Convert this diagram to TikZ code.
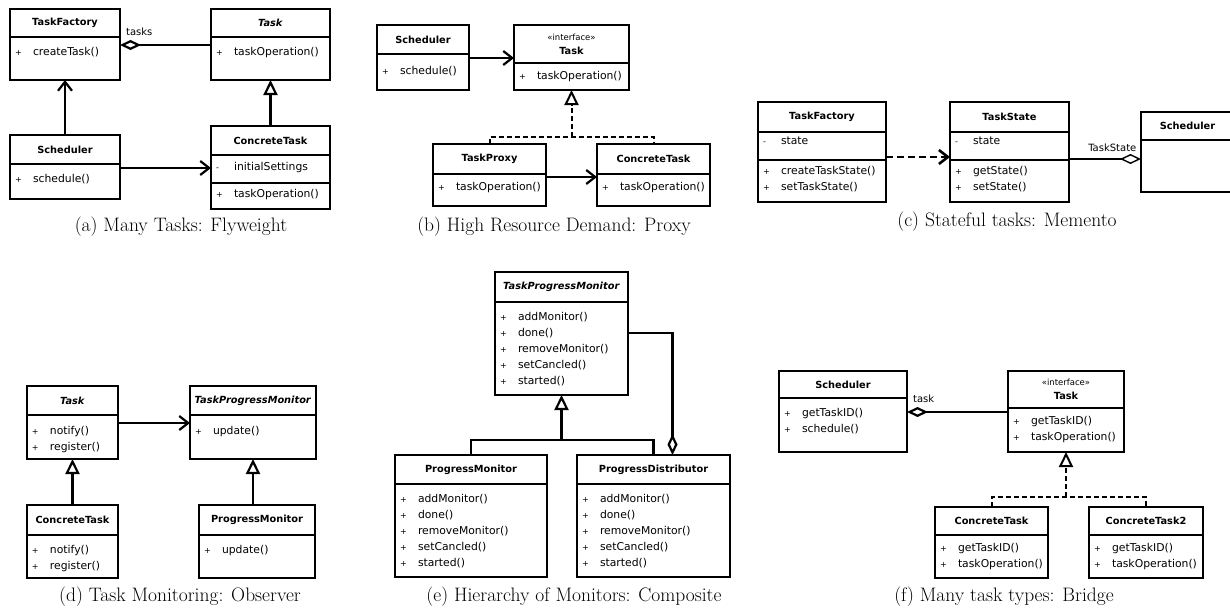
\documentclass[tikz,border=0pt]{standalone}
\usepackage{fontspec}
\usepackage{array}
\newfontfamily\umlfont{DejaVu Sans}
\usetikzlibrary{arrows.meta}
\usetikzlibrary{positioning}

\newcommand{\members}[4][7pt]{\parbox[t][#3][t]{#2}{\vspace*{#1}\fontsize{10.8}{16}\selectfont
  \begin{tabular}[t]{@{\hspace{5pt}}>{\fontsize{8}{16}\selectfont}p{18pt}@{}l@{}}#4\end{tabular}}}
\newcommand{\monitorops}{+ & addMonitor()\\ + & done()\\ + & removeMonitor()\\ + & setCancled()\\ + & started()}
\newcommand{\iface}{{\mdseries\fontsize{8.5}{15}\selectfont «interface»}\\}

\tikzset{
  umlhead/.style={draw, line width=1.6pt, inner sep=0pt, outer sep=0pt, anchor=north west,
    align=center, font=\umlfont\bfseries\fontsize{9.8}{14}\selectfont},
  umlbody/.style={draw, line width=1.6pt, inner sep=0pt, outer sep=0pt, font=\umlfont},
  umlframe/.style={line width=2.8pt},
  assoc/.style={line width=2.2pt, -{Straight Barb[length=9pt,width=14pt]}},
  inh/.style={line width=2.2pt, -{Triangle[length=15pt,width=14pt,fill=white]}},
  aggr/.style={line width=2.2pt, {Diamond[length=21pt,width=10pt,fill=white]}-},
  real/.style={line width=2pt, dash pattern=on 5pt off 3pt},
  dep/.style={line width=2.6pt, dash pattern=on 7pt off 4pt},
  lbl/.style={font=\umlfont\fontsize{10}{12}\selectfont, inner sep=1pt},
  caption/.style={font=\fontsize{19.5}{22}\selectfont}
}

\begin{document}
\begin{tikzpicture}[x=1pt, y=1pt]
\path[use as bounding box] (0,0) rectangle (1230,-610);
\clip (0,0) rectangle (1230,-610);

% (a)
\node[umlhead, minimum width=110pt, minimum height=28pt] (a-fac) at (10,-9) {TaskFactory};
\node[umlbody, below=0pt of a-fac] (a-fac-op) {\members{110pt}{43pt}{+ & createTask()}};
\node[umlhead, minimum width=119pt, minimum height=28pt] (a-task) at (211,-9) {\textit{Task}};
\node[umlbody, below=0pt of a-task] (a-task-op) {\members{119pt}{43pt}{+ & taskOperation()}};
\node[umlhead, minimum width=110pt, minimum height=29pt] (a-sch) at (10,-135) {Scheduler};
\node[umlbody, below=0pt of a-sch] (a-sch-op) {\members{110pt}{35pt}{+ & schedule()}};
\node[umlhead, minimum width=119pt, minimum height=29pt] (a-con) at (211,-126) {ConcreteTask};
\node[umlbody, below=0pt of a-con] (a-con-at) {\members[4.7pt]{119pt}{28pt}{- & initialSettings}};
\node[umlbody, below=0pt of a-con-at] (a-con-op) {\members[3.7pt]{119pt}{26pt}{+ & taskOperation()}};

\draw[assoc] (a-sch.north) -- (a-fac-op.south);
\coordinate (a-s) at ([yshift=-4pt]a-sch-op.north east);
\draw[assoc] (a-s) -- (a-s -| a-con-at.west);
\coordinate (a-t) at ([yshift=-8pt]a-task-op.north west);
\draw[aggr] (a-t -| a-fac-op.east) -- (a-t)
  node[lbl, pos=0, anchor=south west, xshift=4pt, yshift=7pt] (a-lbl) {tasks};
\draw[inh] (a-con.north) -- (a-task-op.south);
\node[caption] (cap-a) at (181,-227) {(a) Many Tasks: Flyweight};

% (b)
\node[umlhead, minimum width=92pt, minimum height=29pt] (b-sch) at (377,-25) {Scheduler};
\node[umlbody, below=0pt of b-sch] (b-sch-op) {\members[9.7pt]{92pt}{36pt}{+ & schedule()}};
\node[umlhead, minimum width=115pt, minimum height=38pt] (b-task) at (514,-25) {\iface Task};
\node[umlbody, below=0pt of b-task] (b-task-op) {\members[5.7pt]{115pt}{27pt}{+ & taskOperation()}};
\node[umlhead, minimum width=113pt, minimum height=30pt] (b-prx) at (433,-144) {TaskProxy};
\node[umlbody, below=0pt of b-prx] (b-prx-op) {\members[5.7pt]{113pt}{32pt}{+ & taskOperation()}};
\node[umlhead, minimum width=113pt, minimum height=30pt] (b-con) at (597,-144) {ConcreteTask};
\node[umlbody, below=0pt of b-con] (b-con-op) {\members[5.7pt]{113pt}{32pt}{+ & taskOperation()}};

\coordinate (b-s) at ([yshift=-4pt]b-sch-op.north east);
\draw[assoc] (b-s) -- (b-s -| b-task.west);
\coordinate (b-p) at ([yshift=-3pt]b-prx-op.north east);
\draw[assoc] (b-p) -- (b-p -| b-con.west);
\coordinate (b-j) at ([yshift=7pt]b-prx.north);
\draw[real] (b-prx.north) -- (b-j) -| (b-con.north);
\draw[inh, real] (b-j -| b-task-op.south) -- (b-task-op.south);
\node[caption] (cap-b) at (554,-227) {(b) High Resource Demand: Proxy};

% (c)
\node[umlhead, minimum width=128pt, minimum height=30pt] (c-fac) at (758,-102) {TaskFactory};
\node[umlbody, below=0pt of c-fac] (c-fac-at) {\members[1.7pt]{128pt}{28pt}{- & state}};
\node[umlbody, below=0pt of c-fac-at] (c-fac-op) {\members[3.7pt]{128pt}{42pt}{+ & createTaskState()\\ + & setTaskState()}};
\node[umlhead, minimum width=119pt, minimum height=30pt] (c-st) at (950,-102) {TaskState};
\node[umlbody, below=0pt of c-st] (c-st-at) {\members[1.7pt]{119pt}{28pt}{- & state}};
\node[umlbody, below=0pt of c-st-at] (c-st-op) {\members[3.7pt]{119pt}{42pt}{+ & getState()\\ + & setState()}};
\node[umlhead, minimum width=93pt, minimum height=28pt] (c-sch) at (1141,-112) {Scheduler};
\node[umlbody, minimum width=93pt, minimum height=52pt, below=0pt of c-sch] (c-sch-op) {};

\coordinate (c-f) at ([yshift=3pt]c-fac-op.north east);
\draw[assoc, dep] (c-f) -- (c-f -| c-st.west);
\coordinate (c-s) at ([yshift=1pt]c-st-op.north east);
\draw[aggr, line width=1.4pt] (c-s -| c-sch.west) -- (c-s)
  node[lbl, pos=0, anchor=south east, xshift=-3pt, yshift=6pt] (c-lbl) {TaskState};
\node[caption] (cap-c) at (1007,-222) {(c) Stateful tasks: Memento};

% (d)
\node[umlhead, minimum width=91pt, minimum height=29pt] (d-task) at (27,-386) {\textit{Task}};
\node[umlbody, below=0pt of d-task] (d-task-op) {\members[8.7pt]{91pt}{44pt}{+ & notify()\\ + & register()}};
\node[umlhead, minimum width=126pt, minimum height=29pt] (d-mon) at (190,-386) {\textit{TaskProgressMonitor}};
\node[umlbody, below=0pt of d-mon] (d-mon-op) {\members[8.7pt]{126pt}{44pt}{+ & update()}};
\node[umlhead, minimum width=91pt, minimum height=30pt] (d-con) at (27,-505) {ConcreteTask};
\node[umlbody, below=0pt of d-con] (d-con-op) {\members{91pt}{43pt}{+ & notify()\\ + & register()}};
\node[umlhead, minimum width=116pt, minimum height=30pt] (d-pm) at (199,-505) {ProgressMonitor};
\node[umlbody, below=0pt of d-pm] (d-pm-op) {\members{116pt}{43pt}{+ & update()}};

\coordinate (d-t) at ([yshift=-8pt]d-task-op.north east);
\draw[assoc] (d-t) -- (d-t -| d-mon.west);
\draw[inh] (d-con.north) -- (d-task-op.south);
\draw[inh] (d-mon-op.south |- d-pm.north) -- (d-mon-op.south);
\node[caption] (cap-d) at (180,-597) {(d) Task Monitoring: Observer};

% (e)
\node[umlhead, minimum width=133pt, minimum height=30pt] (e-mon) at (495,-272) {\textit{TaskProgressMonitor}};
\node[umlbody, below=0pt of e-mon] (e-mon-op) {\members{133pt}{93pt}{\monitorops}};
\node[umlhead, minimum width=152pt, minimum height=29pt] (e-pm) at (395,-455) {ProgressMonitor};
\node[umlbody, below=0pt of e-pm] (e-pm-op) {\members[7.7pt]{152pt}{93pt}{\monitorops}};
\node[umlhead, minimum width=153pt, minimum height=29pt] (e-pd) at (577,-455) {ProgressDistributor};
\node[umlbody, below=0pt of e-pd] (e-pd-op) {\members[7.7pt]{153pt}{93pt}{\monitorops}};

\coordinate (e-j) at ([yshift=15pt]e-pm.north);
\draw[line width=2.2pt] (e-pm.north) -- (e-j) -| (e-pd.north);
\draw[inh] (e-j -| e-mon-op.south) -- (e-mon-op.south);
\draw[aggr] ([xshift=19pt]e-pd.north) |- ([yshift=-31pt]e-mon-op.north east);
\node[caption] (cap-e) at (574,-597) {(e) Hierarchy of Monitors: Composite};

% (f)
\node[umlhead, minimum width=128pt, minimum height=27pt] (f-sch) at (779,-371) {Scheduler};
\node[umlbody, below=0pt of f-sch] (f-sch-op) {\members[7.7pt]{128pt}{54pt}{+ & getTaskID()\\ + & schedule()}};
\node[umlhead, minimum width=116pt, minimum height=37pt] (f-task) at (1008,-371) {\iface Task};
\node[umlbody, below=0pt of f-task] (f-task-op) {\members[5.7pt]{116pt}{44pt}{+ & getTaskID()\\ + & taskOperation()}};
\node[umlhead, minimum width=113pt, minimum height=28pt] (f-con) at (935,-507) {ConcreteTask};
\node[umlbody, below=0pt of f-con] (f-con-op) {\members[5.7pt]{113pt}{43pt}{+ & getTaskID()\\ + & taskOperation()}};
\node[umlhead, minimum width=114pt, minimum height=28pt] (f-con2) at (1089,-507) {ConcreteTask2};
\node[umlbody, below=0pt of f-con2] (f-con2-op) {\members[5.7pt]{114pt}{43pt}{+ & getTaskID()\\ + & taskOperation()}};

\coordinate (f-s) at ([yshift=-14pt]f-sch-op.north east);
\draw[aggr] (f-s) -- (f-s -| f-task.west)
  node[lbl, pos=0, anchor=south west, xshift=4pt, yshift=7pt] (f-lbl) {task};
\coordinate (f-j) at ([yshift=10pt]f-con.north);
\draw[real] (f-con.north) -- (f-j) -| (f-con2.north);
\draw[inh, real] (f-j -| f-task-op.south) -- (f-task-op.south);
\node[caption] (cap-f) at (1004,-597) {(f) Many task types: Bridge};

\foreach \h/\b in {a-fac/a-fac-op, a-task/a-task-op, a-sch/a-sch-op, a-con/a-con-op,
    b-sch/b-sch-op, b-task/b-task-op, b-prx/b-prx-op, b-con/b-con-op,
    c-fac/c-fac-op, c-st/c-st-op, c-sch/c-sch-op,
    d-task/d-task-op, d-mon/d-mon-op, d-con/d-con-op, d-pm/d-pm-op,
    e-mon/e-mon-op, e-pm/e-pm-op, e-pd/e-pd-op,
    f-sch/f-sch-op, f-task/f-task-op, f-con/f-con-op, f-con2/f-con2-op}
  \draw[umlframe] (\h.north west) rectangle (\b.south east);
\end{tikzpicture}
\end{document}
